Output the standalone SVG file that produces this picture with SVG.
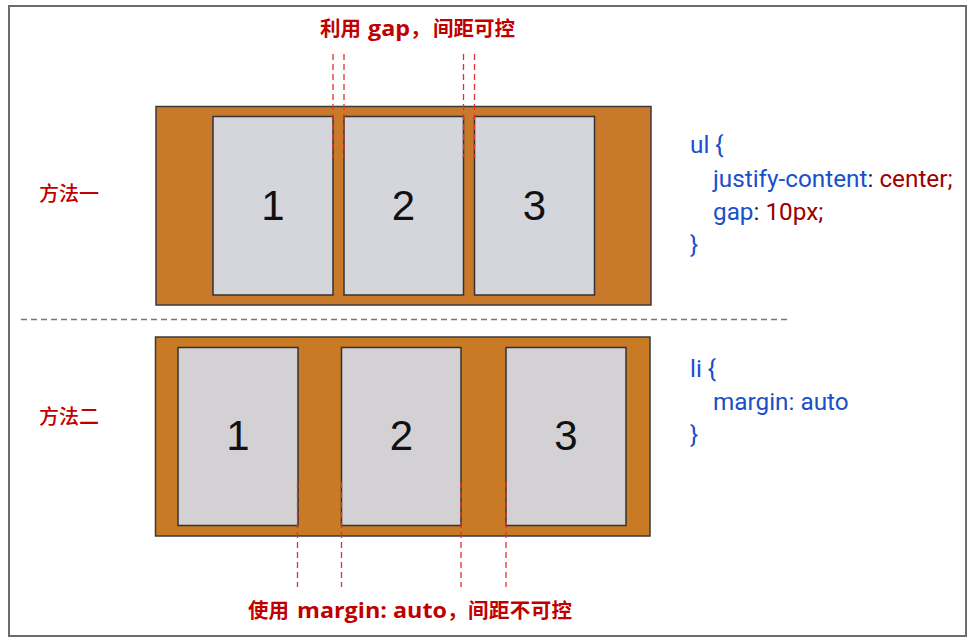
<svg xmlns="http://www.w3.org/2000/svg" width="972" height="642" viewBox="0 0 972 642">
<style>
.frame{fill:#fff;stroke:#6b6b6b;stroke-width:2}
.box{fill:#c97a24;stroke:#3a3a3a;stroke-width:1.5}
.box1{fill:#c8792a;stroke:#3a3a3a;stroke-width:1.5}
.item{fill:#d3d1d4;stroke:#333;stroke-width:1.5}
.item1{fill:#d5d5dc;stroke:#333;stroke-width:1.5}
.num{font-family:"Liberation Sans",Arial,sans-serif;font-size:42px;fill:#111;text-anchor:middle}
.red{font-family:"Noto Sans CJK SC","Noto Sans",sans-serif;fill:#c00000;font-weight:bold;font-size:20.5px}
.redl{font-family:"Open Sans","Noto Sans",sans-serif;fill:#c00000;font-weight:bold;font-size:22px}
.lab{font-family:"Noto Sans CJK SC","Noto Sans",sans-serif;fill:#c00000;font-size:20px;font-weight:500}
.code{font-family:Roboto,"Noto Sans",sans-serif;font-size:24.3px;fill:#1a4fc9}
.val{fill:#9a0000}
.blk{fill:#222}
.rdash{stroke:#e03030;stroke-width:1.3;stroke-dasharray:6,4;fill:none}
.gdash{stroke:#777;stroke-width:1.3;stroke-dasharray:6,4;fill:none}
</style>
<rect x="0" y="0" width="972" height="642" fill="#fff"/>
<rect class="frame" x="9" y="6" width="957" height="630"/>
<g id="method1-label"><text class="lab" x="39" y="201">方法一</text></g>
<g id="method2-label"><text class="lab" x="39" y="424">方法二</text></g>
<g id="top-container">
<rect class="box1" x="156" y="106.5" width="495" height="198.5"/>
</g>
<g id="top-item-1"><rect class="item1" x="213" y="116.5" width="120" height="178.5"/><text class="num" x="273" y="220">1</text></g>
<g id="top-item-2"><rect class="item1" x="344" y="116.5" width="119.5" height="178.5"/><text class="num" x="403.5" y="220">2</text></g>
<g id="top-item-3"><rect class="item1" x="474.5" y="116.5" width="120" height="178.5"/><text class="num" x="534.5" y="220">3</text></g>
<g id="bottom-container">
<rect class="box" x="155.5" y="337" width="494.5" height="199"/>
</g>
<g id="bottom-item-1"><rect class="item" x="178" y="347.5" width="120" height="178"/><text class="num" x="238" y="450">1</text></g>
<g id="bottom-item-2"><rect class="item" x="341.5" y="347.5" width="119.5" height="178"/><text class="num" x="401.5" y="450">2</text></g>
<g id="bottom-item-3"><rect class="item" x="506" y="347.5" width="120" height="178"/><text class="num" x="566" y="450">3</text></g>
<g id="connectors">
<line class="gdash" x1="21" y1="319.5" x2="790" y2="319.5"/>
<line class="rdash" x1="333" y1="54" x2="333" y2="157"/>
<line class="rdash" x1="344" y1="54" x2="344" y2="157"/>
<line class="rdash" x1="463.5" y1="54" x2="463.5" y2="157"/>
<line class="rdash" x1="474.5" y1="54" x2="474.5" y2="157"/>
<line class="rdash" x1="297.5" y1="482" x2="297.5" y2="587"/>
<line class="rdash" x1="341.5" y1="482" x2="341.5" y2="587"/>
<line class="rdash" x1="461" y1="482" x2="461" y2="587"/>
<line class="rdash" x1="506" y1="482" x2="506" y2="587"/>
</g>
<g id="top-caption">
<text class="red" x="320" y="36">利用</text>
<text class="redl" x="368" y="36" textLength="42" lengthAdjust="spacingAndGlyphs">gap</text>
<text class="red" x="410" y="36">，</text>
<text class="red" x="433" y="36" textLength="82">间距可控</text>
</g>
<g id="bottom-caption">
<text class="red" x="248" y="618">使用</text>
<text class="redl" x="297" y="618" textLength="150" lengthAdjust="spacingAndGlyphs">margin: auto</text>
<text class="red" x="447" y="618">，</text>
<text class="red" x="468" y="618" textLength="104">间距不可控</text>
</g>
<g id="code1">
<text class="code" x="690" y="153">ul {</text>
<text class="code" x="713" y="187">justify-content<tspan class="blk">:</tspan> <tspan class="val">center;</tspan></text>
<text class="code" x="713" y="220">gap<tspan class="blk">:</tspan> <tspan class="val">10px;</tspan></text>
<text class="code" x="690" y="253">}</text>
</g>
<g id="code2">
<text class="code" x="690" y="377">li {</text>
<text class="code" x="713" y="410">margin: auto</text>
<text class="code" x="690" y="443">}</text>
</g>
</svg>
